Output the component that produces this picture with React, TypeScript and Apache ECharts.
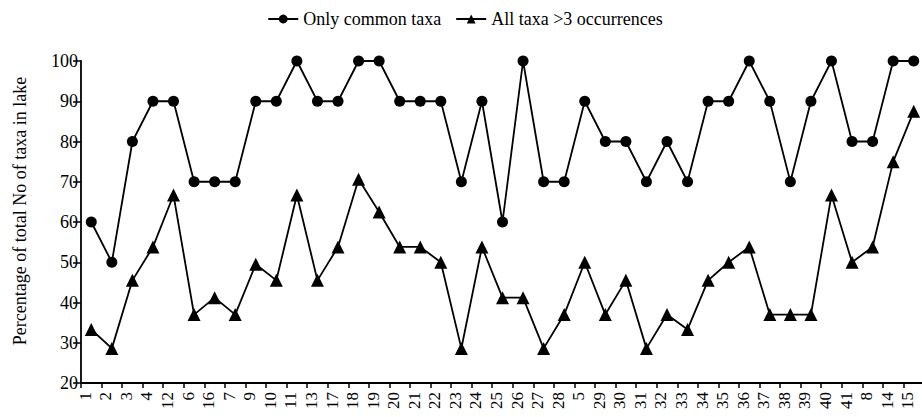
import React, { useEffect, useRef } from "react";
import * as echarts from "echarts";

const categories = ["1","2","3","4","12","6","16","7","9","10","11","13","17","18","19","20","21","22","23","24","25","26","27","28","5","29","30","31","32","33","34","35","36","37","38","39","40","41","8","14","15"];
const commonTaxa = [60,50,80,90,90,70,70,70,90,90,100,90,90,100,100,90,90,90,70,90,60,100,70,70,90,80,80,70,80,70,90,90,100,90,70,90,100,80,80,100,100];
const allTaxa = [33.3,28.6,45.5,53.8,66.7,37,41.2,37,49.5,45.5,66.7,45.5,53.8,70.6,62.5,53.8,53.8,50,28.6,53.8,41.2,41.2,28.6,37,50,37,45.5,28.6,37,33.3,45.5,50,53.8,37,37,37,66.7,50,53.8,75,87.5];
const yTicks = { min: 20, max: 100, interval: 10 };

const FONT = "Liberation Serif";

export default function App() {
  const ref = useRef<HTMLDivElement>(null);
  useEffect(() => {
    if (!ref.current) return;
    const chart = echarts.init(ref.current, undefined, { renderer: "svg" });
    chart.setOption({
      animation: false,
      backgroundColor: "#ffffff",
      textStyle: { fontFamily: FONT, color: "#000" },
      legend: {
        top: 5,
        left: "center",
        itemWidth: 30,
        itemHeight: 11,
        itemGap: 14,
        textStyle: { fontFamily: FONT, fontSize: 18, color: "#000" },
        data: ["Only common taxa", "All taxa >3 occurrences"],
      },
      grid: { left: 81, top: 61, bottom: 34, width: 843 },
      xAxis: {
        type: "category",
        data: categories,
        boundaryGap: true,
        axisLine: { lineStyle: { color: "#000", width: 1.8 } },
        axisTick: { show: true, interval: 0, length: 5, lineStyle: { color: "#000", width: 1.5 } },
        axisLabel: {
          interval: 0,
          rotate: 90,
          margin: 9,
          fontSize: 17,
          fontFamily: FONT,
          color: "#000",
          verticalAlign: "bottom",
          lineHeight: 12,
        },
        splitLine: { show: false },
      },
      yAxis: {
        type: "value",
        min: yTicks.min,
        max: yTicks.max,
        interval: yTicks.interval,
        name: "Percentage of total No of taxa in lake",
        nameLocation: "middle",
        nameGap: 52,
        nameTextStyle: { fontFamily: FONT, fontSize: 18, color: "#000", padding: [0, 0, 0, 22] },
        axisLine: { show: true, lineStyle: { color: "#000", width: 1.8 } },
        axisTick: { show: true, length: 8, lineStyle: { color: "#000", width: 1.5 } },
        axisLabel: { fontSize: 18, fontFamily: FONT, color: "#000", margin: 3 },
        splitLine: { show: false },
      },
      series: [
        {
          name: "Only common taxa",
          type: "line",
          data: commonTaxa,
          symbol: "circle",
          symbolSize: 11,
          lineStyle: { color: "#000", width: 1.8 },
          itemStyle: { color: "#000" },
        },
        {
          name: "All taxa >3 occurrences",
          type: "line",
          data: allTaxa,
          symbol: "triangle",
          symbolSize: 13,
          lineStyle: { color: "#000", width: 1.8 },
          itemStyle: { color: "#000" },
        },
      ],
    });
    return () => chart.dispose();
  }, []);
  return (
    <div style={{ position: "absolute", left: 0, top: 0, width: 922, height: 417, overflow: "hidden", background: "#fff" }}>
      <div ref={ref} style={{ width: 930, height: 417 }} />
    </div>
  );
}
